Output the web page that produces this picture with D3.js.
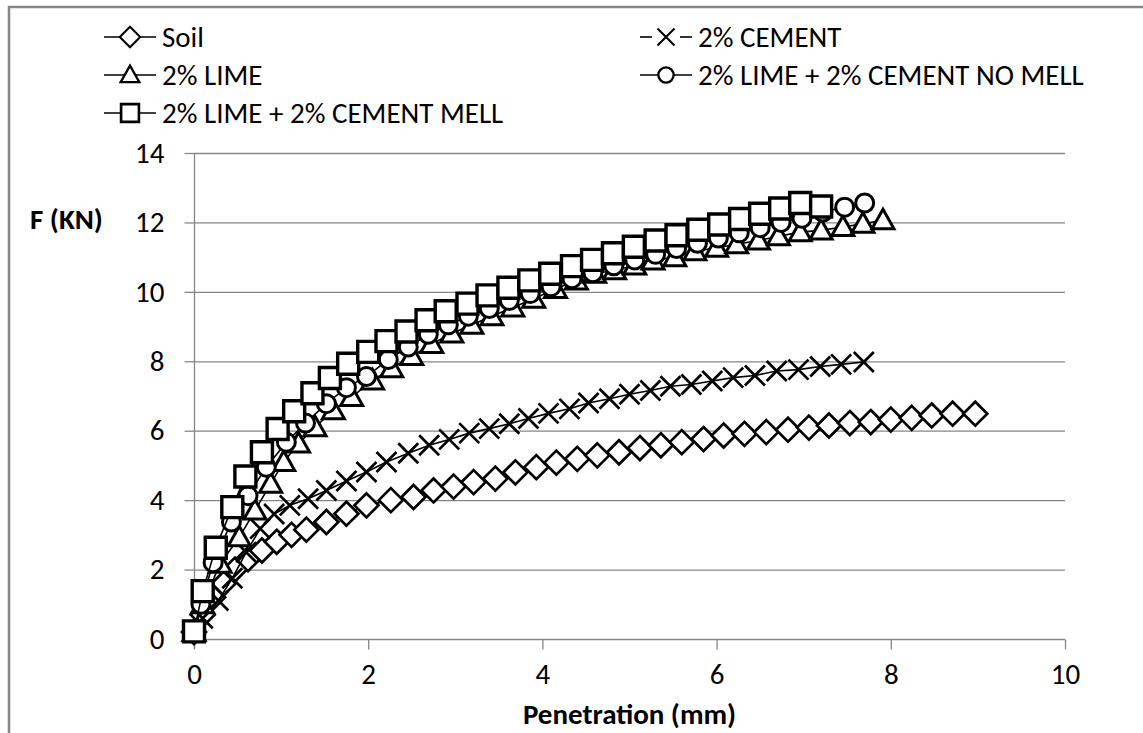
<!DOCTYPE html>
<html>
<head>
<meta charset="utf-8">
<script src="https://cdn.jsdelivr.net/npm/d3@7"></script>
<style>
  html, body { margin: 0; padding: 0; background: #fff; }
  svg text { font-family: Carlito, "Liberation Sans Narrow", "Liberation Sans", Arial, sans-serif; fill: #000; }
</style>
</head>
<body>
<svg width="1143" height="733"></svg>
<script>
var svg = d3.select("svg"),
    width = +svg.attr("width"),
    height = +svg.attr("height");

// readings: penetration (mm) and force F (kN)
var soilX = [0, 0.1, 0.22, 0.34, 0.47, 0.62, 0.78, 0.95, 1.12, 1.29, 1.52, 1.75, 1.98, 2.26, 2.52, 2.75, 2.98, 3.21, 3.46, 3.69, 3.93, 4.16, 4.40, 4.63, 4.88, 5.12, 5.36, 5.60, 5.85, 6.08, 6.32, 6.57, 6.82, 7.06, 7.29, 7.53, 7.77, 8.0, 8.24, 8.47, 8.71, 8.97];
var soilF = [0.2, 0.7, 1.2, 1.6, 2.0, 2.3, 2.55, 2.8, 3.0, 3.15, 3.37, 3.61, 3.85, 4.0, 4.09, 4.28, 4.39, 4.52, 4.62, 4.80, 4.95, 5.08, 5.19, 5.29, 5.38, 5.50, 5.58, 5.67, 5.76, 5.86, 5.91, 5.96, 6.03, 6.09, 6.15, 6.22, 6.25, 6.32, 6.37, 6.44, 6.49, 6.49];

var cementX = [0, 0.1, 0.28, 0.44, 0.6, 0.76, 0.92, 1.1, 1.31, 1.52, 1.75, 1.98, 2.21, 2.46, 2.70, 2.93, 3.16, 3.39, 3.62, 3.84, 4.07, 4.31, 4.53, 4.77, 5.0, 5.24, 5.47, 5.71, 5.95, 6.19, 6.44, 6.69, 6.94, 7.19, 7.43, 7.69];
var cementF = [0.2, 0.6, 1.11, 1.75, 2.5, 3.18, 3.6, 3.85, 4.04, 4.28, 4.55, 4.81, 5.1, 5.35, 5.58, 5.75, 5.93, 6.06, 6.2, 6.35, 6.5, 6.63, 6.8, 6.92, 7.05, 7.16, 7.28, 7.33, 7.43, 7.53, 7.59, 7.72, 7.76, 7.85, 7.91, 7.98];

var limeX = [0, 0.1, 0.3, 0.52, 0.7, 0.88, 1.03, 1.2, 1.39, 1.6, 1.81, 2.05, 2.27, 2.5, 2.73, 2.96, 3.19, 3.42, 3.66, 3.9, 4.15, 4.39, 4.6, 4.83, 5.06, 5.27, 5.52, 5.75, 6.0, 6.23, 6.48, 6.71, 6.96, 7.2, 7.45, 7.68, 7.91];
var limeF = [0.2, 1.0, 2.17, 2.93, 3.7, 4.47, 5.1, 5.63, 6.1, 6.59, 6.97, 7.45, 7.8, 8.15, 8.5, 8.8, 9.05, 9.3, 9.55, 9.8, 10.08, 10.33, 10.52, 10.62, 10.76, 10.9, 11.0, 11.17, 11.27, 11.37, 11.48, 11.6, 11.72, 11.77, 11.87, 11.96, 12.06];

var noMellX = [0, 0.08, 0.22, 0.43, 0.62, 0.83, 1.06, 1.28, 1.52, 1.75, 1.98, 2.23, 2.46, 2.69, 2.92, 3.15, 3.39, 3.62, 3.86, 4.1, 4.34, 4.58, 4.82, 5.06, 5.3, 5.54, 5.78, 6.02, 6.26, 6.5, 6.74, 6.98, 7.22, 7.47, 7.70];
var noMellF = [0.2, 1.0, 2.2, 3.37, 4.13, 4.95, 5.67, 6.22, 6.78, 7.24, 7.56, 8.05, 8.41, 8.78, 9.05, 9.3, 9.52, 9.75, 9.95, 10.15, 10.38, 10.55, 10.75, 10.92, 11.08, 11.25, 11.4, 11.55, 11.7, 11.85, 12.0, 12.12, 12.3, 12.44, 12.56];

var mellX = [0, 0.1, 0.25, 0.44, 0.59, 0.78, 0.96, 1.15, 1.36, 1.56, 1.77, 2.0, 2.21, 2.44, 2.67, 2.89, 3.14, 3.37, 3.61, 3.85, 4.09, 4.34, 4.57, 4.81, 5.05, 5.30, 5.54, 5.79, 6.03, 6.27, 6.50, 6.73, 6.96, 7.20];
var mellF = [0.22, 1.38, 2.63, 3.80, 4.68, 5.38, 6.05, 6.56, 7.08, 7.52, 7.93, 8.27, 8.58, 8.86, 9.18, 9.44, 9.66, 9.9, 10.12, 10.33, 10.52, 10.74, 10.92, 11.11, 11.3, 11.48, 11.63, 11.79, 11.94, 12.1, 12.25, 12.4, 12.56, 12.46];

var seriesNames = ["Soil", "2% CEMENT", "2% LIME", "2% LIME + 2% CEMENT NO MELL", "2% LIME + 2% CEMENT MELL"];
var seriesShapes = ["diamond", "cross", "triangle", "circle", "square"];
var xTicks = [0, 2, 4, 6, 8, 10];
var yTicks = [0, 2, 4, 6, 8, 10, 12, 14];

var series = [
  { name: seriesNames[0], shape: seriesShapes[0], xs: soilX, ys: soilF },
  { name: seriesNames[1], shape: seriesShapes[1], xs: cementX, ys: cementF },
  { name: seriesNames[2], shape: seriesShapes[2], xs: limeX, ys: limeF },
  { name: seriesNames[3], shape: seriesShapes[3], xs: noMellX, ys: noMellF },
  { name: seriesNames[4], shape: seriesShapes[4], xs: mellX, ys: mellF }
];

var grey = "#868686";

// outer chart border (runs off the right / bottom edge)
svg.append("rect")
    .attr("x", 9).attr("y", 7)
    .attr("width", 1160).attr("height", 760)
    .attr("fill", "none")
    .attr("stroke", grey)
    .attr("stroke-width", 2.5);

var x = d3.scaleLinear().domain([0, 10]).range([194, 1065]);
var y = d3.scaleLinear().domain([0, 14]).range([639, 153]);

// horizontal gridlines
svg.append("g")
    .selectAll("line")
    .data(yTicks.slice(1))
    .enter().append("line")
    .attr("x1", x(0)).attr("x2", x(10))
    .attr("y1", function(d) { return y(d) + 0.5; })
    .attr("y2", function(d) { return y(d) + 0.5; })
    .attr("stroke", grey)
    .attr("stroke-width", 1.3);

// axes
var yAxis = svg.append("g")
    .attr("transform", "translate(" + (x(0) + 0.5) + ",0)")
    .call(d3.axisLeft(y).tickValues(yTicks).tickSize(10).tickPadding(20).tickSizeOuter(0));
var xAxis = svg.append("g")
    .attr("transform", "translate(0," + (y(0) + 0.5) + ")")
    .call(d3.axisBottom(x).tickValues(xTicks).tickSize(10).tickPadding(14).tickSizeOuter(0));

[xAxis, yAxis].forEach(function(a) {
  a.selectAll("path, line").attr("stroke", grey).attr("stroke-width", 1.3);
  a.selectAll("text").attr("font-size", 29).attr("font-family", null).attr("fill", "#000");
});
yAxis.select(".domain").attr("d", "M0," + y(14) + "V" + (y(0) + 10));
xAxis.select(".domain").attr("d", "M" + (x(0) - 10) + ",0H" + x(10));

// axis titles
svg.append("text")
    .attr("x", (x(0) + x(10)) / 2)
    .attr("y", 724)
    .attr("text-anchor", "middle")
    .attr("font-weight", "bold")
    .attr("font-size", 29)
    .text("Penetration (mm)");

svg.append("text")
    .attr("x", 30)
    .attr("y", 229)
    .attr("font-weight", "bold")
    .attr("font-size", 29)
    .text("F (KN)");

// marker shapes
function markerPath(shape) {
  switch (shape) {
    case "diamond": return "M0,-12L12,0L0,12L-12,0Z";
    case "cross": return "M-10,-10L10,10M-10,10L10,-10";
    case "triangle": return "M0,-11L11,8.5L-11,8.5Z";
    case "circle": return "M9,0A9,9 0 1,1 -9,0A9,9 0 1,1 9,0Z";
    case "square": return "M-10.5,-10.5H10.5V10.5H-10.5Z";
  }
}
function markerStroke(shape) {
  if (shape === "square") return 3.4;
  if (shape === "triangle" || shape === "circle") return 3;
  return 2.7;
}

var line = d3.line()
    .x(function(d) { return x(d[0]); })
    .y(function(d) { return y(d[1]); });

series.forEach(function(s) {
  var pts = s.xs.map(function(v, i) { return [v, s.ys[i]]; });
  var g = svg.append("g").attr("class", "series");
  g.append("path")
      .datum(pts)
      .attr("d", line)
      .attr("fill", "none")
      .attr("stroke", "#000")
      .attr("stroke-width", 1.6);
  g.selectAll("path.m")
      .data(pts)
      .enter().append("path")
      .attr("class", "m")
      .attr("transform", function(d) { return "translate(" + x(d[0]) + "," + y(d[1]) + ")"; })
      .attr("d", markerPath(s.shape))
      .attr("fill", s.shape === "cross" ? "none" : "#fff")
      .attr("stroke", "#000")
      .attr("stroke-width", markerStroke(s.shape));
});

// legend: two columns, row-wise
var legendCols = [104, 640];
var legendRows = [37, 75, 113];
var legend = svg.append("g").attr("class", "legend");
series.forEach(function(s, i) {
  var lx = legendCols[i % 2], ly = legendRows[Math.floor(i / 2)];
  var item = legend.append("g").attr("transform", "translate(" + lx + "," + ly + ")");
  if (s.shape === "cross") {
    item.append("line").attr("x1", 0).attr("x2", 12).attr("y1", 0).attr("y2", 0)
        .attr("stroke", "#000").attr("stroke-width", 1.6);
    item.append("line").attr("x1", 40).attr("x2", 52).attr("y1", 0).attr("y2", 0)
        .attr("stroke", "#000").attr("stroke-width", 1.6);
  } else {
    item.append("line").attr("x1", 0).attr("x2", 52).attr("y1", 0).attr("y2", 0)
        .attr("stroke", "#000").attr("stroke-width", 1.6);
  }
  item.append("path")
      .attr("transform", "translate(26,0) scale(0.85)")
      .attr("d", markerPath(s.shape))
      .attr("fill", s.shape === "cross" ? "none" : "#fff")
      .attr("stroke", "#000")
      .attr("stroke-width", markerStroke(s.shape) - 0.3);
  item.append("text")
      .attr("x", 58)
      .attr("y", 10)
      .attr("font-size", 29)
      .text(s.name);
});
</script>
</body>
</html>
